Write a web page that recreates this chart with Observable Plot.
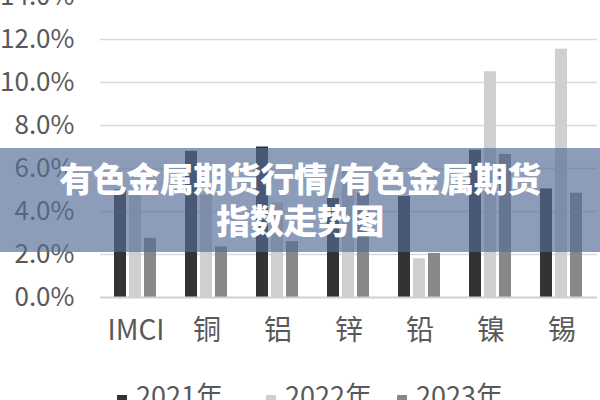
<!DOCTYPE html>
<html>
<head>
<meta charset="utf-8">
<script src="https://cdn.jsdelivr.net/npm/d3@7"></script>
<script src="https://cdn.jsdelivr.net/npm/@observablehq/plot@0.6"></script>
<style>
  html, body { margin: 0; padding: 0; background: #fff; }
  #wrap { position: relative; width: 600px; height: 400px; overflow: hidden; font-family: "Noto Sans CJK SC", "Noto Sans", sans-serif; }
  #chart { position: absolute; left: 0; top: -24px; }
  #banner { position: absolute; left: 0; top: 148px; width: 600px; height: 104px; background: rgba(85,109,150,0.67);
            color: #fff; font-weight: 900; font-size: 34px; line-height: 42px; text-align: center; padding-top: 9px; box-sizing: border-box; letter-spacing: -0.5px; }
  .legend-item { position: absolute; top: 381px; font-size: 27px; color: #595959; white-space: nowrap; line-height: 27px; }
  .legend-item span.sw { display: inline-block; width: 10px; height: 10px; margin-right: 9px; vertical-align: 1px; }
</style>
</head>
<body>
<div id="wrap">
  <div id="chart"></div>
  <div id="legend"></div>
  <div id="banner">有色金属期货行情/有色金属期货<br>指数走势图</div>
</div>
<script>
const categories = ["IMCI", "铜", "铝", "锌", "铅", "镍", "锡"];
const years = ["2021年", "2022年", "2023年"];
const values2021 = [5.0, 6.8, 7.0, 4.6, 4.7, 6.85, 5.05];
const values2022 = [4.8, 4.75, 4.4, 5.9, 1.8, 10.5, 11.55];
const values2023 = [2.75, 2.35, 2.6, 4.85, 2.05, 6.65, 4.85];
const colors = ["#333333", "#cfcfcf", "#888888"];
const yTicks = [0, 2, 4, 6, 8, 10, 12, 14];

const series = [values2021, values2022, values2023];
const data = [];
categories.forEach((c, i) => years.forEach((y, j) => data.push({cat: c, year: y, value: series[j][i]})));

const chart = Plot.plot({
  width: 600,
  height: 380,
  marginTop: 20,
  marginBottom: 59,
  marginLeft: 98,
  marginRight: 2,
  style: {fontFamily: '"Noto Sans CJK SC", "Noto Sans", sans-serif', color: "#595959", background: "transparent"},
  fx: {domain: categories, padding: 0, label: null},
  x: {domain: years, paddingInner: 0.19, paddingOuter: 0.83, axis: null},
  y: {domain: [0, 14], label: null},
  color: {domain: years, range: colors},
  marks: [
    Plot.ruleY(yTicks.filter(d => d > 0), {stroke: "#d9d9d9", strokeWidth: 1.5}),
    Plot.barY(data, {fx: "cat", x: "year", y: "value", fill: "year"}),
    Plot.ruleY([0], {stroke: "#d0d0d0", strokeWidth: 2}),
    Plot.axisY(yTicks, {tickSize: 0, tickPadding: 26, fontSize: 26, tickFormat: d => d.toFixed(1) + "%", fill: "#595959", label: null}),
    Plot.axisFx({anchor: "bottom", tickSize: 0, tickPadding: 23, fontSize: 28, fill: "#595959", label: null})
  ]
});
document.getElementById("chart").appendChild(chart);

const legend = document.getElementById("legend");
const lefts = [117, 266, 397];
years.forEach((y, j) => {
  const d = document.createElement("div");
  d.className = "legend-item";
  d.style.left = lefts[j] + "px";
  const sw = document.createElement("span");
  sw.className = "sw";
  sw.style.background = colors[j];
  d.appendChild(sw);
  d.appendChild(document.createTextNode(y));
  legend.appendChild(d);
});
</script>
</body>
</html>
